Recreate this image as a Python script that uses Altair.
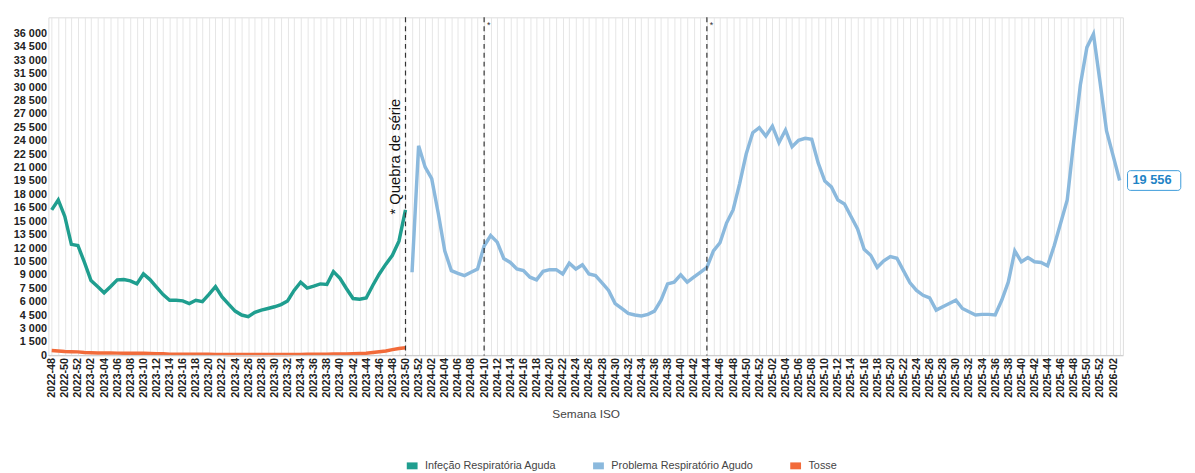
import altair as alt
import pandas as pd

# ISO weeks 2022-48 .. 2026-03
weeks = ([f"2022-{w:02d}" for w in range(48, 53)]
         + [f"2023-{w:02d}" for w in range(1, 53)]
         + [f"2024-{w:02d}" for w in range(1, 53)]
         + [f"2025-{w:02d}" for w in range(1, 53)]
         + [f"2026-{w:02d}" for w in range(1, 4)])

# Infeção Respiratória Aguda: 2022-48 .. 2023-50
ira = [16270, 17380, 15540, 12420, 12300, 10400, 8380, 7700, 7000, 7700,
       8450, 8480, 8340, 8000, 9110, 8480, 7640, 6800, 6170, 6170,
       6100, 5800, 6170, 6020, 6830, 7700, 6540, 5730, 4960, 4520,
       4330, 4810, 5070, 5250, 5440, 5690, 6100, 7270, 8190, 7530,
       7750, 8000, 7930, 9370, 8630, 7460, 6360, 6280, 6430, 7820,
       9110, 10210, 11200, 12780, 16270]

# Tosse: 2022-48 .. 2023-50
tosse = [560, 500, 450, 420, 400, 330, 300, 280, 270, 280,
         260, 250, 250, 240, 260, 230, 200, 180, 150, 140,
         140, 130, 140, 130, 130, 120, 120, 110, 110, 100,
         100, 100, 100, 110, 110, 110, 110, 120, 120, 130,
         130, 140, 150, 160, 160, 170, 200, 220, 240, 330,
         420, 500, 650, 780, 870]

# Problema Respiratório Agudo: 2023-51 .. 2026-03
pra = [9300, 23440, 21050, 19760, 15900, 11680, 9480, 9180, 8930, 9300,
       9660, 12230, 13410, 12670, 10840, 10400, 9660, 9480, 8750, 8450,
       9400, 9590, 9590, 9110, 10320, 9660, 10140, 9110, 8930, 8120,
       7270, 5800, 5250, 4700, 4520, 4410, 4590, 4960, 6170, 8000,
       8190, 9000, 8190, 8750, 9300, 9850, 11680, 12600, 14800, 16270,
       19210, 22520, 24900, 25460, 24530, 25640, 23800, 25200, 23330, 24060,
       24280, 24170, 21490, 19500, 18840, 17380, 16940, 15540, 14140, 11870,
       11200, 9850, 10580, 11060, 10870, 9480, 8120, 7270, 6720, 6430,
       5070, 5440, 5800, 6170, 5250, 4890, 4520, 4590, 4590, 4520,
       6170, 8190, 11680, 10470, 10950, 10470, 10400, 10030, 12230, 14800,
       17380, 23990, 30230, 34440, 35930, 30590, 25090, 22340, 19556]

y_ticks = list(range(0, 36001, 1500))

series = ["Infeção Respiratória Aguda", "Problema Respiratório Agudo", "Tosse"]
colors = ["#1f9e8f", "#8bb9dd", "#f26b3a"]

breaks = ["2023-50", "2024-10", "2024-44"]
break_labels = ["* Quebra de série", "*", "*"]

rows = []
for w, v in zip(weeks[:len(ira)], ira):
    rows.append({"week": w, "value": v, "serie": series[0]})
for w, v in zip(weeks[len(ira):], pra):
    rows.append({"week": w, "value": v, "serie": series[1]})
for w, v in zip(weeks[:len(tosse)], tosse):
    rows.append({"week": w, "value": v, "serie": series[2]})
df = pd.DataFrame(rows)

x = alt.X("week:O", sort=weeks, scale=alt.Scale(domain=weeks, type="point", padding=0.5),
          title="Semana ISO",
          axis=alt.Axis(labelAngle=-90, labelFontWeight="bold", labelFontSize=11,
                        labelColor="#222", labelOverlap=False, grid=True,
                        gridColor="#e6e6e6", ticks=False, domain=False,
                        labelExpr="toNumber(slice(datum.value, 5)) % 2 == 0 ? datum.value : ''",
                        titleFontWeight="normal", titleFontSize=12, titleColor="#444",
                        titlePadding=12))
y = alt.Y("value:Q", scale=alt.Scale(domain=[0, 37800], nice=False), title=None,
          axis=alt.Axis(values=y_ticks, grid=False, ticks=False,
                        domain=False, labelOverlap=False, labelFlush=False,
                        labelFontWeight="bold", labelFontSize=11, labelColor="#222",
                        labelExpr="replace(format(datum.value, ','), ',', ' ')"))

lines = alt.Chart(df).mark_line(strokeWidth=3.5).encode(
    x=x, y=y,
    color=alt.Color("serie:N", scale=alt.Scale(domain=series, range=colors),
                    legend=alt.Legend(orient="none", direction="horizontal",
                                      legendX=360, legendY=446, title=None,
                                      symbolType="M-1,0H1", symbolStrokeWidth=7,
                                      symbolSize=120,
                                      labelFontSize=11, labelColor="#444",
                                      columnPadding=22)),
    detail="serie:N")

baseline = alt.Chart(pd.DataFrame({"value": [0]})).mark_rule(color="#cccccc").encode(y=y)

bdf = pd.DataFrame({"week": breaks, "label": break_labels})
rules = alt.Chart(bdf).mark_rule(color="#333", strokeDash=[5, 4], strokeWidth=1.2).encode(
    x=alt.X("week:O", sort=weeks))

qlabel = alt.Chart(bdf.iloc[:1]).mark_text(angle=270, align="left", baseline="bottom",
                                           fontSize=15, color="#111", dy=-3).encode(
    x=alt.X("week:O", sort=weeks), y=alt.value(200), text="label:N")
stars = alt.Chart(bdf.iloc[1:]).mark_text(align="left", fontSize=9, color="#333", dx=3).encode(
    x=alt.X("week:O", sort=weeks), y=alt.value(8), text="label:N")

last = pd.DataFrame({"week": [weeks[-1]], "value": [pra[-1]], "label": ["19 556"]})
box = alt.Chart(last).mark_rect(fill="white", stroke="#3a9ad9", strokeWidth=1,
                                cornerRadius=3, xOffset=8, x2Offset=62,
                                yOffset=-10, y2Offset=10).encode(
    x=alt.X("week:O", sort=weeks), x2="week:O", y=y, y2="value:Q")
endtext = alt.Chart(last).mark_text(align="left", dx=13, fontSize=13, fontWeight="bold",
                                    color="#1f84c6").encode(
    x=alt.X("week:O", sort=weeks), y=y, text="label:N")

chart = alt.layer(lines, baseline, rules, qlabel, stars, box, endtext).properties(
    width=1090, height=343
).configure_view(stroke=None).configure(font="Liberation Sans").configure_axisY(
    labelOverlap=False)

chart.save("out.html", embed_options={"renderer": "svg", "actions": False})
